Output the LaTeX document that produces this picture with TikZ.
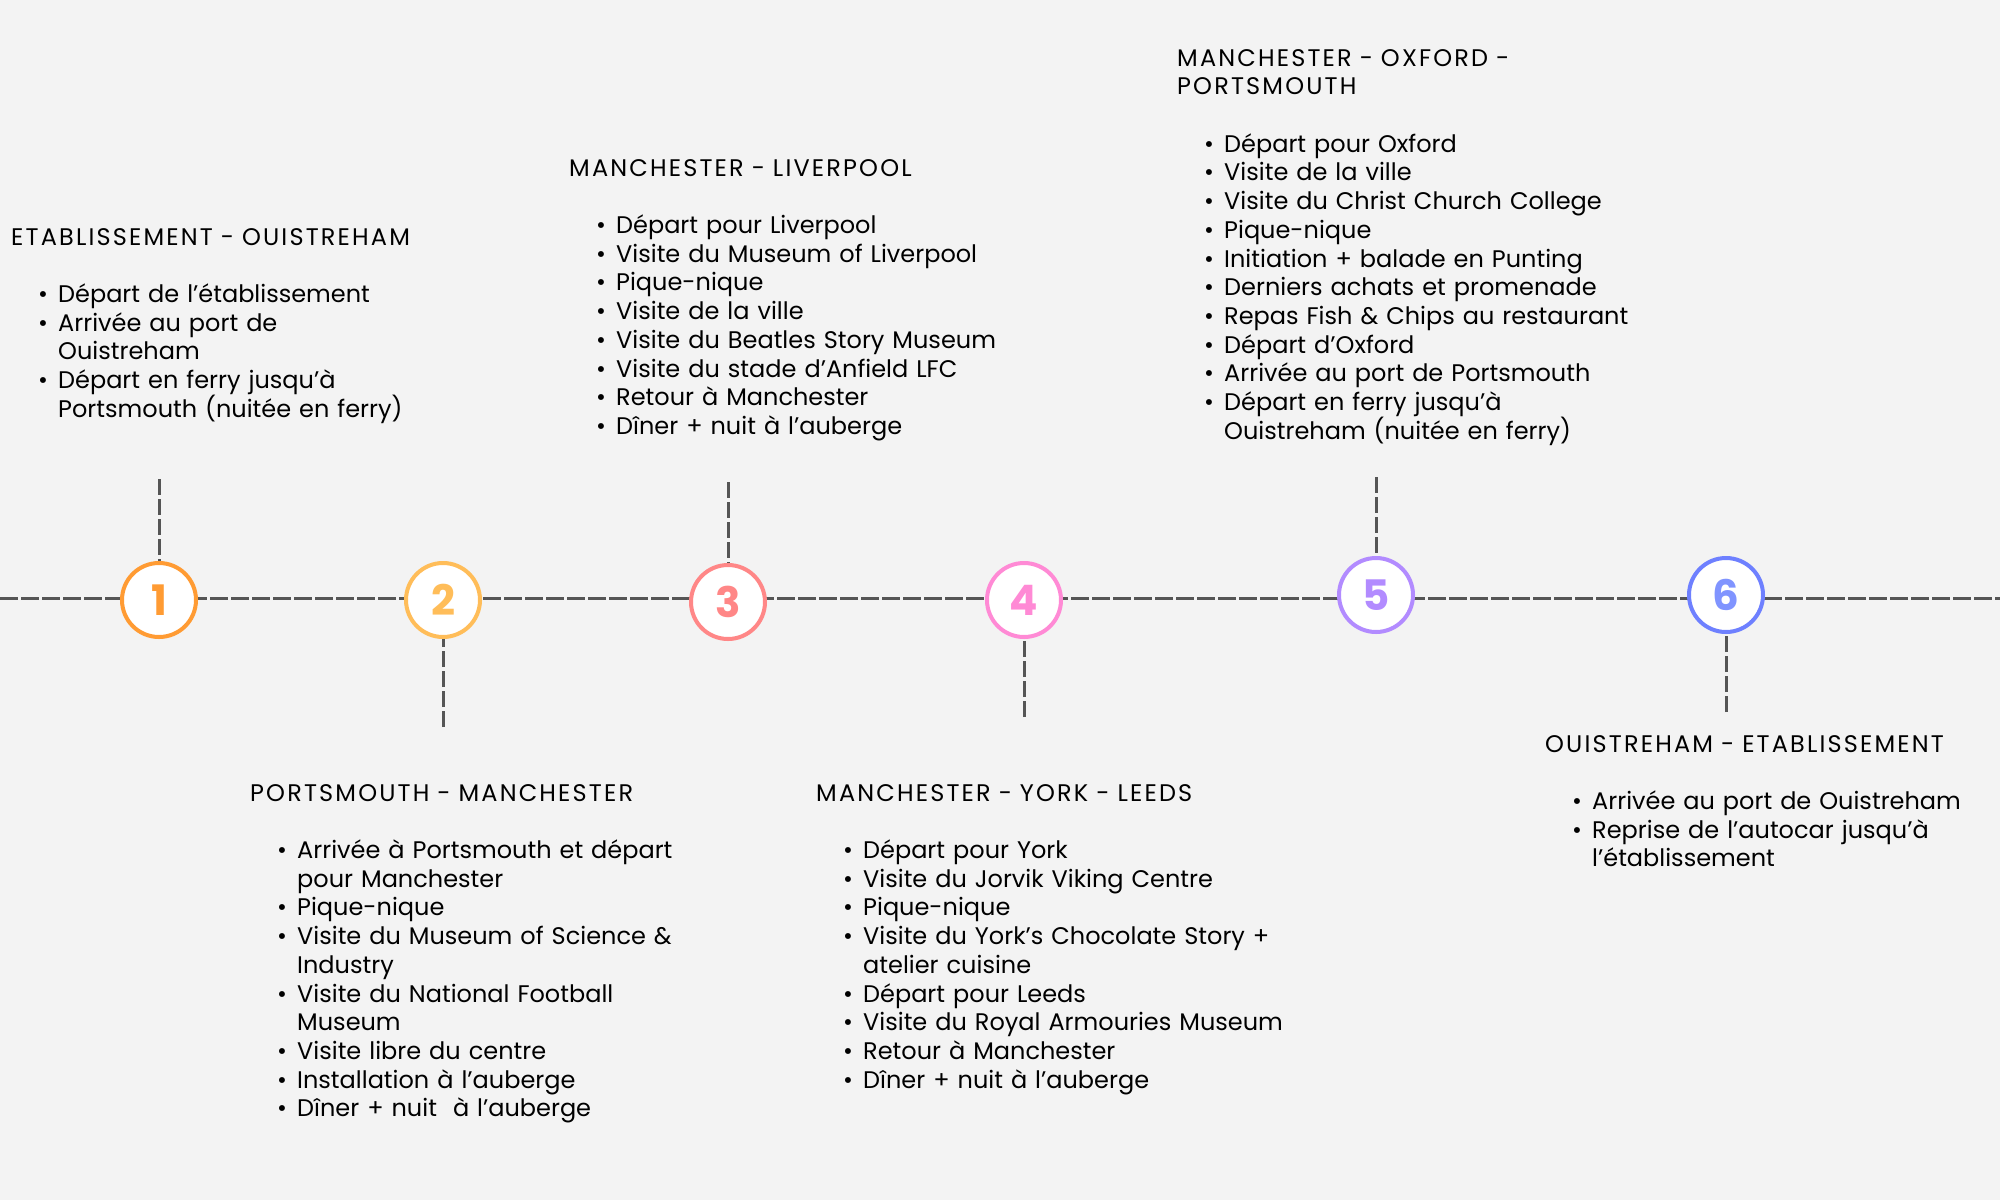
\documentclass[tikz,border=0pt]{standalone}
\usepackage{fontspec}
\setmainfont{Poppins}
\usetikzlibrary{positioning}
\definecolor{paper}{HTML}{F3F3F3}
\definecolor{railgray}{HTML}{555555}
\definecolor{dayA}{HTML}{FF9B33}
\definecolor{dayB}{HTML}{FFBD59}
\definecolor{dayC}{HTML}{FF8787}
\definecolor{dayD}{HTML}{FF8AD5}
\definecolor{dayE}{HTML}{B28BFF}
\definecolor{dayF}{HTML}{6E80FF}
\definecolor{dayFtext}{HTML}{8094FF}
\newcommand\tripitem[1]{\hangindent=47pt\hangafter=1\noindent\hbox to 47pt{\hskip27pt\textbullet\hss}#1\par}
\newcommand\triphead[1]{{\addfontfeatures{LetterSpace=9}#1\par}\vskip28.7pt}

\begin{document}
\begin{tikzpicture}[x=1pt, y=-1pt,
		stepmark/.style={circle, draw=#1, fill=white, line width=4pt, minimum size=74pt, inner sep=0pt, text=#1, font=\fontsize{42}{42}\selectfont\bfseries},
		rail/.style={draw=railgray, line width=3pt, dash pattern=on 18pt off 3pt},
		stem/.style={draw=railgray, line width=3pt, dash pattern=on 16pt off 4pt},
		dayplan/.style={anchor=north west, inner sep=0pt, text width=620pt, align=left, font=\fontsize{24}{28.7}\selectfont}]
			\useasboundingbox[fill=paper] (0,0) rectangle (2000,1200);
			% timeline
			\coordinate (railstart) at (0,598);
			\coordinate (railend) at (2000,598);
			\draw[rail] (railstart) -- (railend);
			\node[stepmark=dayA] (c1) at (159,600) {1};
			\node[stepmark=dayB] (c2) at (443,600) {2};
			\node[stepmark=dayC] (c3) at (728,602) {3};
			\node[stepmark=dayD] (c4) at (1024,600) {4};
			\node[stepmark=dayE] (c5) at (1376,595) {5};
			\node[stepmark=dayF, text=dayFtext] (c6) at (1726,595) {6};
			% stems
			\coordinate (s1) at (159,479);
			\coordinate (s2) at (443,727);
			\coordinate (s3) at (728,482);
			\coordinate (s4) at (1024,717);
			\coordinate (s5) at (1376,477);
			\coordinate (s6) at (1726,712);
			\foreach \i in {1,...,6}
				\draw[stem] (s\i) -- (c\i);
			% day plans
			\node[dayplan] (d1) at (11,228) {\triphead{ETABLISSEMENT - OUISTREHAM}
				\tripitem{Départ de l’établissement}
				\tripitem{Arrivée au port de\newline Ouistreham}
				\tripitem{Départ en ferry jusqu’à\newline Portsmouth (nuitée en ferry)}};
			\node[dayplan] (d2) at (250,784) {\triphead{PORTSMOUTH - MANCHESTER}
				\tripitem{Arrivée à Portsmouth et départ\newline pour Manchester}
				\tripitem{Pique-nique}
				\tripitem{Visite du Museum of Science \&\newline Industry}
				\tripitem{Visite du National Football\newline Museum}
				\tripitem{Visite libre du centre}
				\tripitem{Installation à l’auberge}
				\tripitem{Dîner + nuit ~à l’auberge}};
			\node[dayplan] (d3) at (569,159) {\triphead{MANCHESTER - LIVERPOOL}
				\tripitem{Départ pour Liverpool}
				\tripitem{Visite du Museum of Liverpool}
				\tripitem{Pique-nique}
				\tripitem{Visite de la ville}
				\tripitem{Visite du Beatles Story Museum}
				\tripitem{Visite du stade d’Anfield LFC}
				\tripitem{Retour à Manchester}
				\tripitem{Dîner + nuit à l’auberge}};
			\node[dayplan] (d4) at (816,784) {\triphead{MANCHESTER - YORK - LEEDS}
				\tripitem{Départ pour York}
				\tripitem{Visite du Jorvik Viking Centre}
				\tripitem{Pique-nique}
				\tripitem{Visite du York’s Chocolate Story +\newline atelier cuisine}
				\tripitem{Départ pour Leeds}
				\tripitem{Visite du Royal Armouries Museum}
				\tripitem{Retour à Manchester}
				\tripitem{Dîner + nuit à l’auberge}};
			\node[dayplan] (d5) at (1177,49) {\triphead{MANCHESTER - OXFORD -\newline PORTSMOUTH}
				\tripitem{Départ pour Oxford}
				\tripitem{Visite de la ville}
				\tripitem{Visite du Christ Church College}
				\tripitem{Pique-nique}
				\tripitem{Initiation + balade en Punting}
				\tripitem{Derniers achats et promenade}
				\tripitem{Repas Fish \& Chips au restaurant}
				\tripitem{Départ d’Oxford}
				\tripitem{Arrivée au port de Portsmouth}
				\tripitem{Départ en ferry jusqu’à\newline Ouistreham (nuitée en ferry)}};
			\node[dayplan, text width=440pt] (d6) at (1545,735) {\triphead{OUISTREHAM - ETABLISSEMENT}
				\tripitem{Arrivée au port de Ouistreham}
				\tripitem{Reprise de l’autocar jusqu’à\newline l’établissement}};
		\end{tikzpicture}
\end{document}
